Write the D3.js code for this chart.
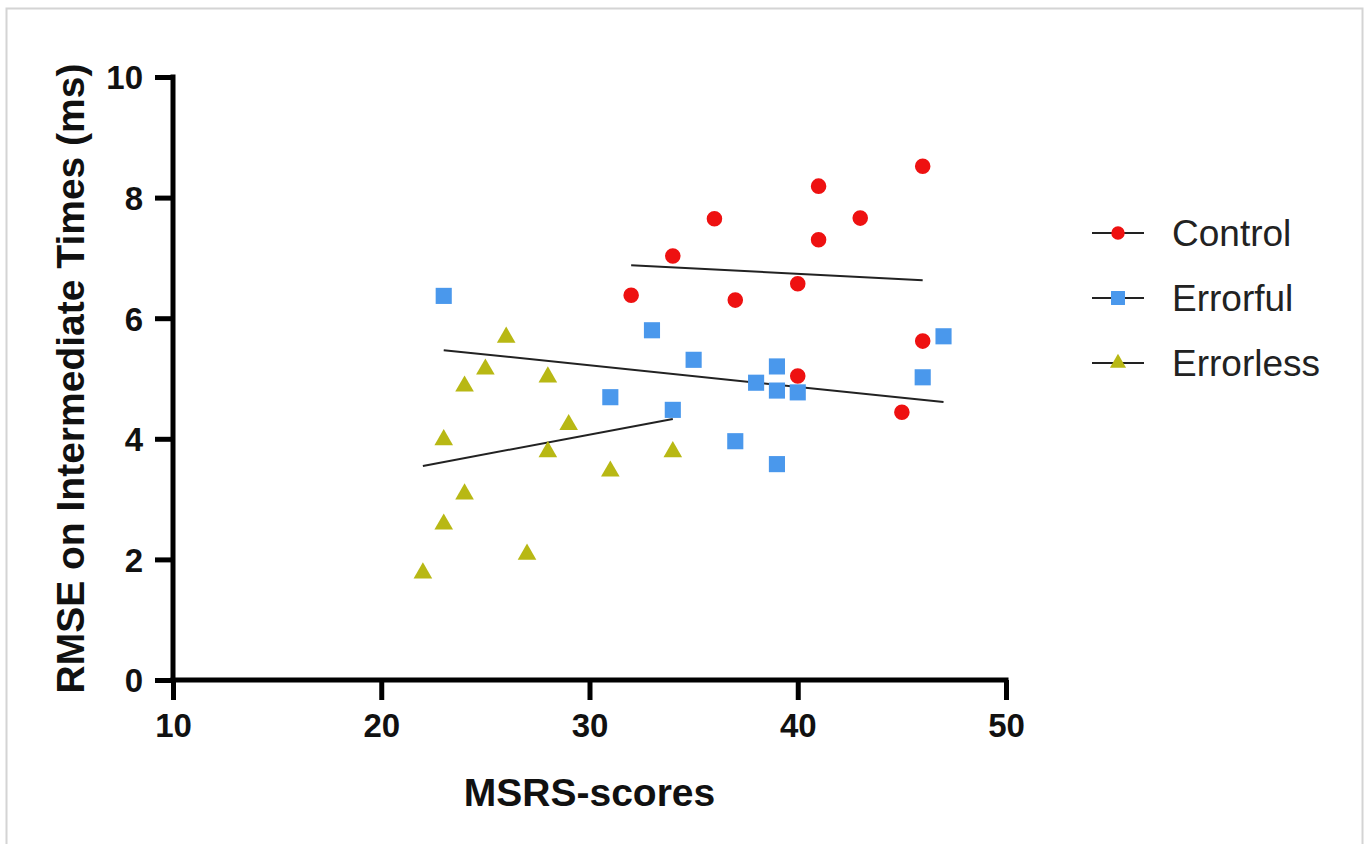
<!doctype html>
<html>
<head>
<meta charset="UTF-8">
<title>RMSE vs MSRS-scores</title>
<script src="https://cdn.jsdelivr.net/npm/d3@7"></script>
<style>
body { margin: 0; background: #fff; }
text { font-family: "Liberation Sans Narrow", "Liberation Sans", Arial, sans-serif; }
</style>
</head>
<body>
<script>
// data
var controlX = [32, 34, 36, 37, 40, 40, 41, 41, 43, 45, 46, 46];
var controlY = [6.38, 7.03, 7.65, 6.30, 6.57, 5.04, 8.19, 7.30, 7.66, 4.44, 8.52, 5.62];
var errorfulX = [23, 31, 33, 34, 35, 37, 38, 39, 39, 39, 40, 46, 47];
var errorfulY = [6.37, 4.69, 5.80, 4.48, 5.31, 3.96, 4.93, 5.20, 4.80, 3.58, 4.77, 5.02, 5.70];
var errorlessX = [22, 23, 23, 24, 24, 25, 26, 27, 28, 28, 29, 31, 34];
var errorlessY = [1.79, 2.60, 4.00, 3.10, 4.89, 5.17, 5.70, 2.10, 5.04, 3.80, 4.25, 3.48, 3.80];
// fitted lines (start x, start y, end x, end y)
var controlFit = [32, 6.88, 46, 6.63];
var errorfulFit = [23, 5.47, 47, 4.61];
var errorlessFit = [22, 3.55, 34, 4.33];
var xTicks = [10, 20, 30, 40, 50];
var yTicks = [0, 2, 4, 6, 8, 10];
var seriesNames = ["Control", "Errorful", "Errorless"];

var w = 1367, h = 844;
var margin = {top: 77, right: 361, bottom: 164, left: 173};

var svg = d3.select("body").append("svg")
  .attr("width", w)
  .attr("height", h);

// light frame around the figure
svg.append("rect")
  .attr("x", 6.5).attr("y", 8.5)
  .attr("width", 1356).attr("height", 860)
  .attr("fill", "none")
  .attr("stroke", "#d4d4d4")
  .attr("stroke-width", 2);

var xScale = d3.scaleLinear().domain([10, 50]).range([margin.left, w - margin.right]);
var yScale = d3.scaleLinear().domain([0, 10]).range([h - margin.bottom, margin.top]);

var xAxis = d3.axisBottom(xScale).tickValues(xTicks).tickSize(20).tickPadding(14).tickSizeOuter(0);
var yAxis = d3.axisLeft(yScale).tickValues(yTicks).tickSize(18).tickPadding(12).tickSizeOuter(0);

var gx = svg.append("g")
  .attr("transform", "translate(0," + yScale(0) + ")")
  .call(xAxis);
var gy = svg.append("g")
  .attr("transform", "translate(" + xScale(10) + ",0)")
  .call(yAxis);

[gx, gy].forEach(function(g) {
  g.select(".domain").attr("stroke", "#000").attr("stroke-width", 5);
  g.selectAll(".tick line").attr("stroke", "#000").attr("stroke-width", 5);
  g.selectAll(".tick text")
    .attr("fill", "#111")
    .attr("font-size", "33px")
    .attr("font-weight", "bold");
});
// extend domains over the corner
gx.select(".domain").attr("d", "M" + (xScale(10) - 2.5) + ",0H" + (xScale(50) + 2.5));
gy.select(".domain").attr("d", "M0," + (yScale(0) + 2.5) + "V" + (yScale(10) - 2.5));
gy.selectAll(".tick text").attr("dy", "0.36em");

// axis titles
svg.append("text")
  .attr("x", (xScale(10) + xScale(50)) / 2)
  .attr("y", 806)
  .attr("text-anchor", "middle")
  .attr("font-size", "39px")
  .attr("font-weight", "bold")
  .attr("fill", "#111")
  .text("MSRS-scores");

svg.append("text")
  .attr("transform", "translate(84," + ((yScale(0) + yScale(10)) / 2 - 0) + ") rotate(-90)")
  .attr("text-anchor", "middle")
  .attr("font-size", "39px")
  .attr("font-weight", "bold")
  .attr("fill", "#111")
  .text("RMSE on Intermediate Times (ms)");

// fit lines
var fits = [controlFit, errorfulFit, errorlessFit];
svg.selectAll("line.fit")
  .data(fits)
  .enter().append("line")
  .attr("class", "fit")
  .attr("x1", function(d) { return xScale(d[0]); })
  .attr("y1", function(d) { return yScale(d[1]); })
  .attr("x2", function(d) { return xScale(d[2]); })
  .attr("y2", function(d) { return yScale(d[3]); })
  .attr("stroke", "#222")
  .attr("stroke-width", 2);

var colors = ["#ee1111", "#4a98ec", "#b8b814"];
var symbols = [d3.symbolCircle, d3.symbolSquare, d3.symbolTriangle];
var sizes = [190, 260, 150];

function zip(xs, ys) {
  return xs.map(function(x, i) { return {x: x, y: ys[i]}; });
}
var series = [zip(controlX, controlY), zip(errorfulX, errorfulY), zip(errorlessX, errorlessY)];

series.forEach(function(pts, s) {
  svg.append("g").selectAll("path")
    .data(pts)
    .enter().append("path")
    .attr("d", d3.symbol().type(symbols[s]).size(sizes[s]))
    .attr("transform", function(d) {
      return "translate(" + xScale(d.x) + "," + (yScale(d.y) + (s === 2 ? 1 : 0)) + ")";
    })
    .attr("fill", colors[s]);
});

// legend
var legend = svg.append("g").attr("transform", "translate(1092,233)");
var items = legend.selectAll("g")
  .data(seriesNames)
  .enter().append("g")
  .attr("transform", function(d, i) { return "translate(0," + (i * 65) + ")"; });
items.append("line")
  .attr("x1", 0).attr("x2", 52)
  .attr("stroke", "#222").attr("stroke-width", 2);
items.append("path")
  .attr("d", function(d, i) { return d3.symbol().type(symbols[i]).size(sizes[i] * 0.75)(); })
  .attr("transform", "translate(26,0)")
  .attr("fill", function(d, i) { return colors[i]; });
items.append("text")
  .attr("x", 80)
  .attr("dy", "0.35em")
  .attr("font-size", "37px")
  .attr("font-family", "'Liberation Sans', Arial, sans-serif")
  .attr("fill", "#222")
  .text(function(d) { return d; });
</script>
</body>
</html>
